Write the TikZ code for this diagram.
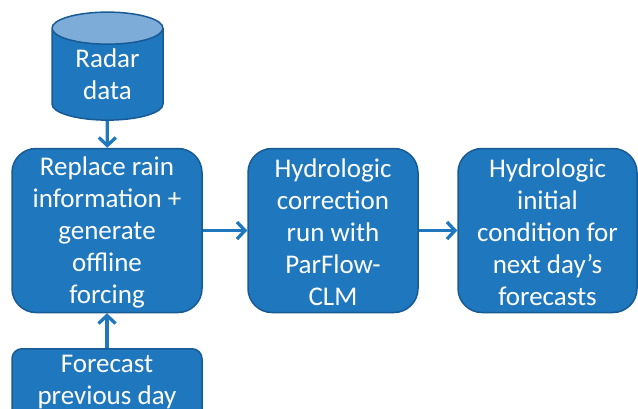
\documentclass[tikz,border=0pt]{standalone}
\usepackage{fontspec}
\setmainfont{Carlito}
\usetikzlibrary{shapes.geometric, arrows.meta, positioning}
\definecolor{boxblue}{RGB}{31, 119, 190}
\definecolor{edgeblue}{RGB}{24, 90, 148}
\definecolor{topblue}{RGB}{125, 172, 216}
\newcommand{\lift}{\rule{0pt}{23pt}}

\begin{document}
\begin{tikzpicture}[x=1pt, y=-1pt,
  blk/.style={draw=edgeblue, fill=boxblue, line width=1.5pt, rounded corners=24pt,
              text=white, font=\fontsize{27}{32}\selectfont, align=center,
              inner sep=0pt, minimum height=164pt},
  arr/.style={-{Straight Barb[length=8pt, width=17pt]}, line width=3.3pt, boxblue},
]
\useasboundingbox (0,0) rectangle (638,408);
\clip (0,0) rectangle (638,408);

% Radar input
\node[cylinder, shape border rotate=90, aspect=0.5, draw=edgeblue, line width=1.5pt,
      cylinder uses custom fill, cylinder body fill=boxblue, cylinder end fill=topblue,
      minimum width=111pt, minimum height=108pt, inner sep=0pt,
      text=white, font=\fontsize{27}{32}\selectfont, align=center] (radar) at (107.5,74.5) {Radar\\data};

% Main chain
\node[blk, minimum width=190pt] (replace) at (107,230.5) {\lift Replace rain\\information +\\generate\\offline\\forcing};
\node[blk, minimum width=170pt] (correct) at (333,230.5) {\lift Hydrologic\\correction\\run with\\ParFlow-\\CLM};
\node[blk, minimum width=179pt] (initial) at (547.5,230.5) {\lift Hydrologic\\initial\\condition for\\next day’s\\forecasts};

% Forecast of the previous day, cut at the lower edge
\node[blk, rounded corners=10pt, anchor=north, minimum width=190pt, minimum height=90pt] (fcst) at (107,348) {};
\node[text=white, font=\fontsize{27}{32}\selectfont, align=center, inner sep=0pt] (fcsttxt) at (107,382) {Forecast\\previous day};

\draw[arr] (radar) -- (replace);
\draw[arr] (fcst) -- (replace);
\draw[arr] (replace) -- (correct);
\draw[arr] (correct) -- (initial);
\end{tikzpicture}
\end{document}
